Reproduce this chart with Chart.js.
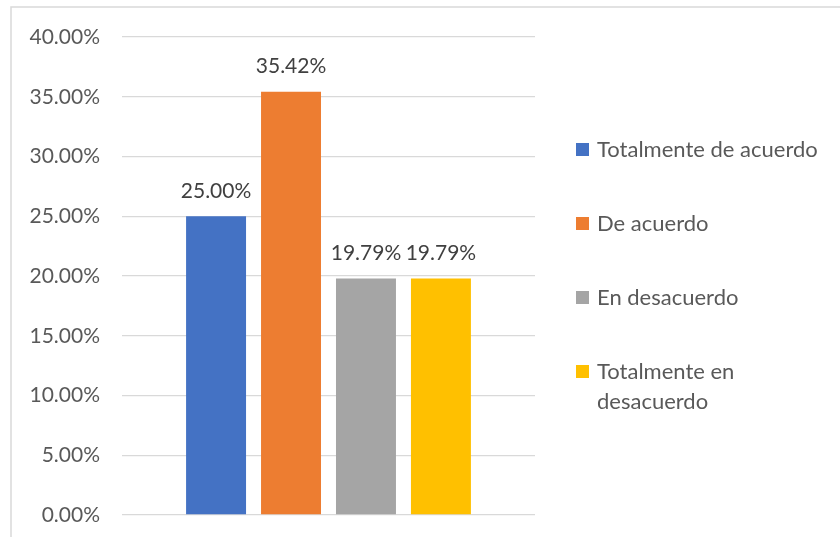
<!DOCTYPE html>
<html>
<head>
<meta charset="utf-8">
<script src="https://cdn.jsdelivr.net/npm/chart.js@4.4.1/dist/chart.umd.min.js"></script>
<style>
  html, body { margin: 0; padding: 0; background: #fff; }
  #wrap { width: 840px; height: 537px; position: relative; }
</style>
</head>
<body>
<div id="wrap"><canvas id="grafico" width="840" height="537"></canvas></div>
<script>
// datos del gráfico
const categorias = [""];
const series = ["Totalmente de acuerdo", "De acuerdo", "En desacuerdo", "Totalmente en desacuerdo"];
const valores = [25.00, 35.42, 19.79, 19.79];
const colores = ["#4472C4", "#ED7D31", "#A5A5A5", "#FFC000"];
const ejeMax = 40;
const ejePaso = 5;

const FUENTE = "Lato, 'Open Sans', sans-serif";
const TAM = 21;

// formato de porcentaje
const pct = (v) => Number(v).toFixed(2) + "%";

// marco exterior
const marco = {
  id: "marco",
  beforeDraw(chart) {
    const ctx = chart.ctx;
    ctx.save();
    ctx.fillStyle = "#fff";
    ctx.fillRect(0, 0, chart.width, chart.height);
    ctx.strokeStyle = "#D9D9D9";
    ctx.lineWidth = 1.5;
    ctx.strokeRect(11, 7, 1000, 1000);
    ctx.restore();
  }
};

// etiquetas de datos encima de cada barra
const etiquetas = {
  id: "etiquetas",
  afterDatasetsDraw(chart) {
    const ctx = chart.ctx;
    ctx.save();
    ctx.font = `${TAM}px ${FUENTE}`;
    ctx.fillStyle = "#404040";
    ctx.textAlign = "center";
    ctx.textBaseline = "middle";
    chart.data.datasets.forEach((ds, i) => {
      const meta = chart.getDatasetMeta(i);
      meta.data.forEach((bar, j) => {
        ctx.fillText(pct(ds.data[j]), bar.x, bar.y - 25);
      });
    });
    ctx.restore();
  }
};

// leyenda a la derecha, con salto de línea
const leyenda = {
  id: "leyenda",
  afterDraw(chart) {
    const ctx = chart.ctx;
    const x0 = 576, xt = 597, anchoMax = 238;
    const paso = 74, linea = 30;
    let y = 150;
    ctx.save();
    ctx.font = `22px ${FUENTE}`;
    ctx.textBaseline = "middle";
    chart.data.datasets.forEach((ds) => {
      // partir texto en líneas
      const palabras = ds.label.split(" ");
      const lineas = [];
      let actual = "";
      palabras.forEach((p) => {
        const prueba = actual ? actual + " " + p : p;
        if (ctx.measureText(prueba).width > anchoMax && actual) {
          lineas.push(actual);
          actual = p;
        } else {
          actual = prueba;
        }
      });
      lineas.push(actual);

      ctx.fillStyle = ds.backgroundColor;
      ctx.fillRect(x0, y - 7, 13, 13);
      ctx.fillStyle = "#595959";
      lineas.forEach((l, k) => ctx.fillText(l, xt, y + k * linea));
      y += paso;
    });
    ctx.restore();
  }
};

new Chart(document.getElementById("grafico"), {
  type: "bar",
  data: {
    labels: categorias,
    datasets: series.map((s, i) => ({
      label: s,
      data: [valores[i]],
      backgroundColor: colores[i],
      borderWidth: 0,
      categoryPercentage: 0.726,
      barPercentage: 0.8
    }))
  },
  options: {
    responsive: false,
    animation: false,
    layout: { padding: { top: 37, right: 305, bottom: 22, left: 0 } },
    plugins: {
      legend: { display: false },
      tooltip: { enabled: false }
    },
    scales: {
      x: { display: false },
      y: {
        min: 0,
        max: ejeMax,
        afterFit: (scale) => {
          scale.width = 122;
          scale.paddingTop = 0;
          scale.paddingBottom = 0;
        },
        border: { display: false },
        grid: { color: "#D9D9D9", lineWidth: 1.3, drawTicks: false },
        ticks: {
          stepSize: ejePaso,
          padding: 22,
          color: "#595959",
          font: { family: FUENTE, size: TAM },
          callback: (v) => pct(v)
        }
      }
    }
  },
  plugins: [marco, etiquetas, leyenda]
});
</script>
</body>
</html>
